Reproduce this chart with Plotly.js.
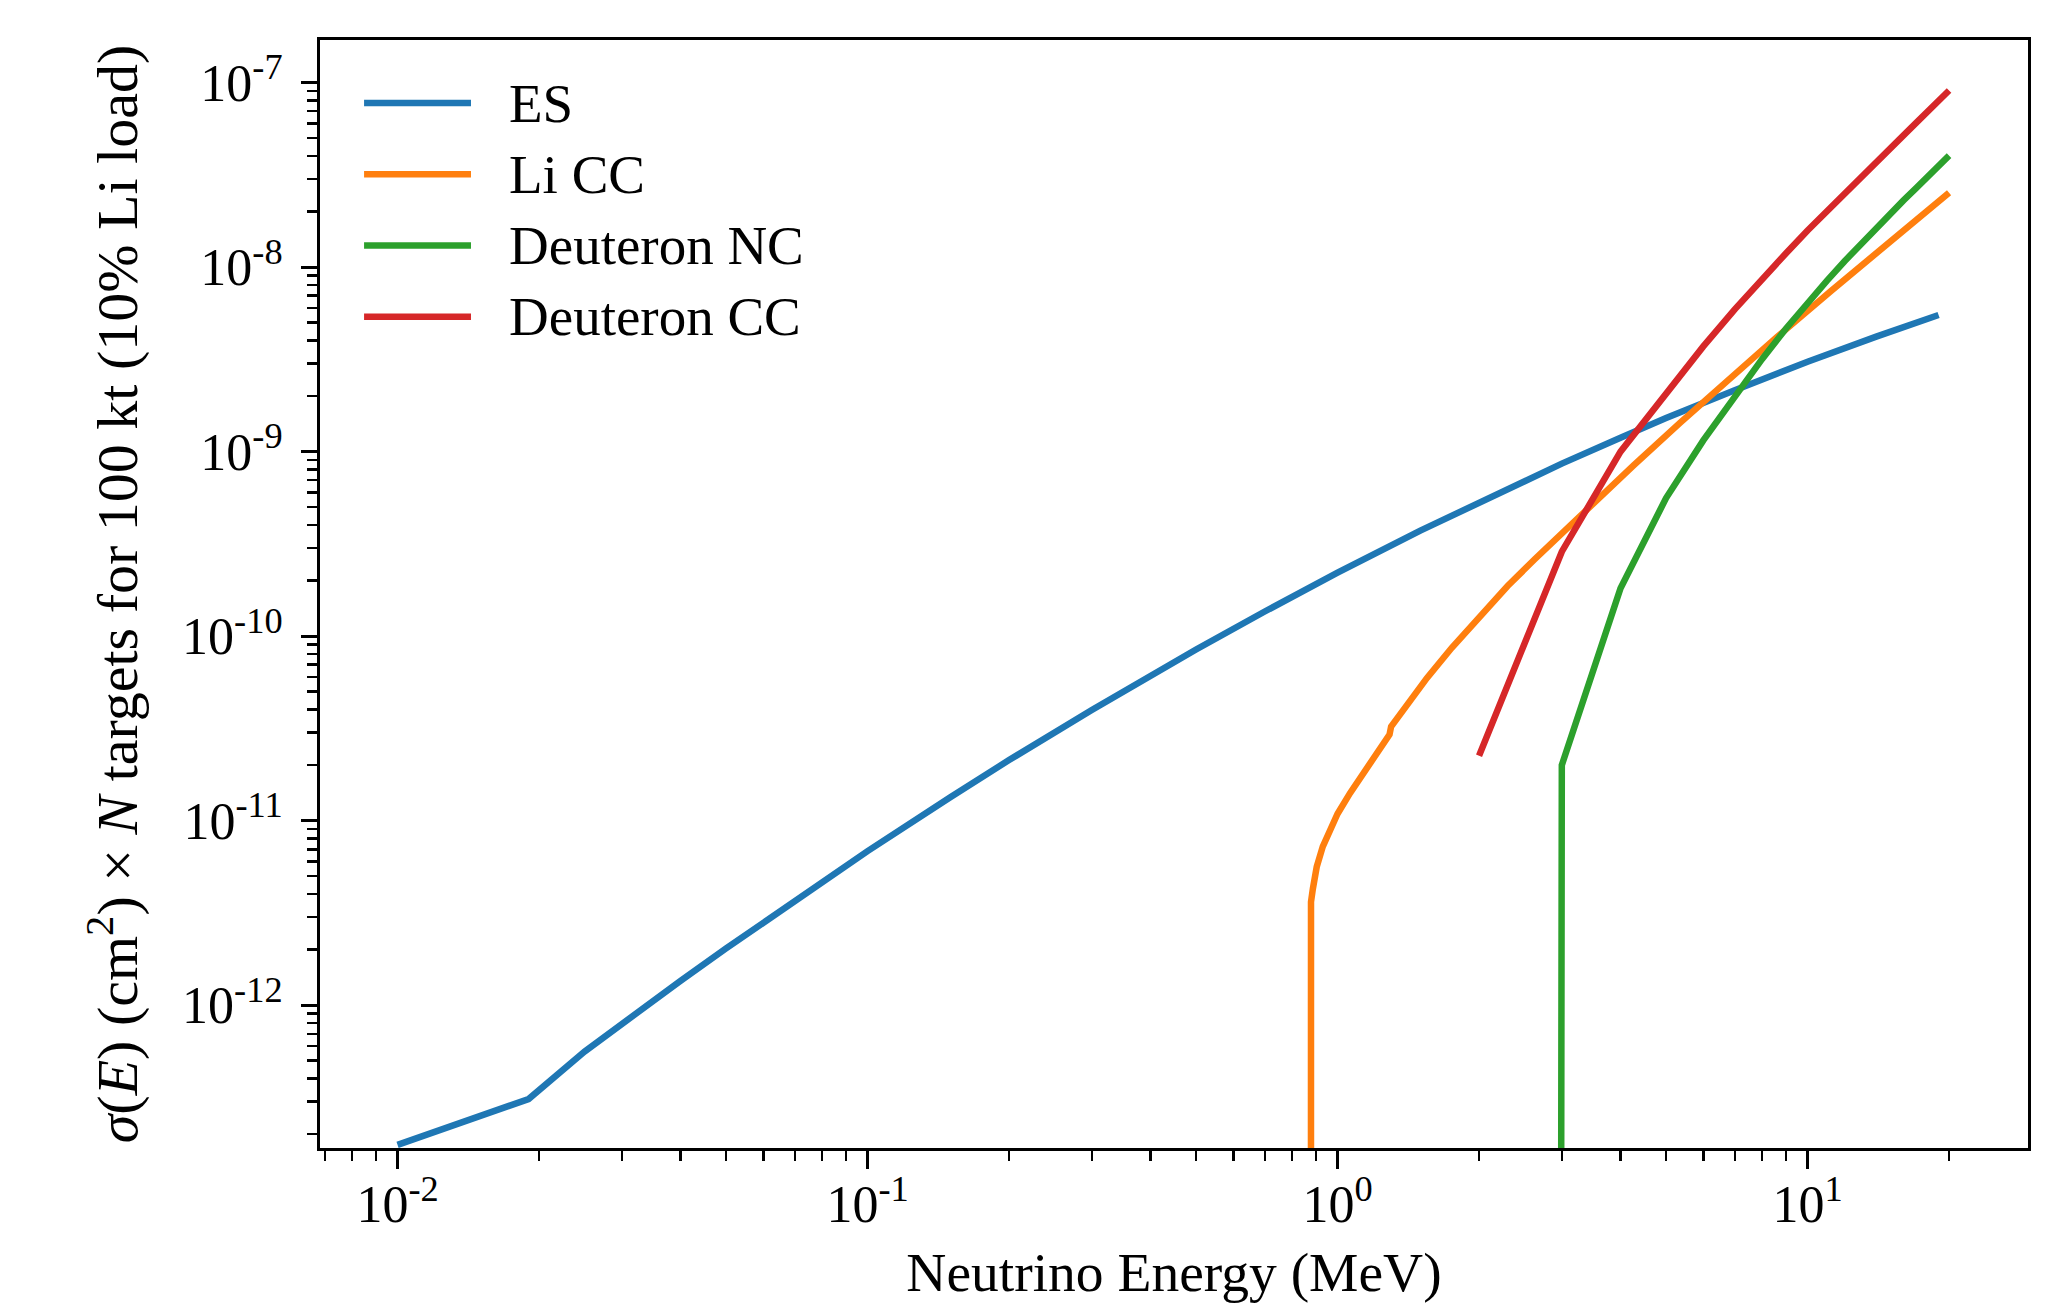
<!DOCTYPE html>
<html><head><meta charset="utf-8">
<script src="https://cdn.plot.ly/plotly-3.0.1.min.js"></script>
<style>html,body{margin:0;padding:0;background:#fff;}</style>
</head><body><div id="chart" style="width:2052px;height:1303px;"></div>
<script>
// ---------------- data ----------------
const seriesNames  = ['ES', 'Li CC', 'Deuteron NC', 'Deuteron CC'];
const seriesColors = ['#1f77b4', '#ff7f0e', '#2ca02c', '#d62728'];

// Elastic scattering
const esEnergy = [0.01, 0.019, 0.025, 0.03, 0.04, 0.05, 0.07, 0.1, 0.15, 0.2, 0.3, 0.4, 0.5, 0.7, 1, 1.5, 2, 3, 4, 5, 7, 10, 14, 19];
const esSigma  = [1.75e-13, 3.1e-13, 5.61e-13, 7.93e-13, 1.355e-12, 2.03e-12, 3.70e-12, 6.84e-12, 1.34e-11, 2.13e-11, 3.98e-11, 6.12e-11, 8.47e-11, 1.36e-10, 2.21e-10, 3.73e-10, 5.32e-10, 8.61e-10, 1.19e-9, 1.52e-9, 2.15e-9, 3.07e-9, 4.20e-9, 5.50e-9];

// Li charged current (0 below threshold)
const liEnergy = [0.86, 0.874, 0.878, 0.886, 0.903, 0.93, 0.964, 1.0, 1.063, 1.15, 1.29, 1.30, 1.4, 1.55, 1.75, 2.04, 2.3, 2.63, 3.39, 4.27, 5.36, 6.76, 8.59, 11.2, 14.74, 20];
const liSigma  = [0, 3.02e-12, 3.63e-12, 4.27e-12, 5.62e-12, 7.24e-12, 9.08e-12, 1.09e-11, 1.41e-11, 1.91e-11, 2.93e-11, 3.24e-11, 4.23e-11, 5.94e-11, 8.65e-11, 1.35e-10, 1.87e-10, 2.62e-10, 4.89e-10, 8.45e-10, 1.435e-9, 2.44e-9, 4.16e-9, 7.41e-9, 1.33e-8, 2.53e-8];

// Deuteron neutral current (0 below threshold)
const dncEnergy = [2, 3, 4, 5, 6, 7, 8, 9, 10, 11, 12, 13, 14, 15, 16, 17, 18, 19, 20];
const dncSigma  = [0, 2.0e-11, 1.82e-10, 5.6e-10, 1.15e-9, 2.0e-9, 3.17e-9, 4.65e-9, 6.41e-9, 8.45e-9, 1.08e-8, 1.34e-8, 1.63e-8, 1.95e-8, 2.30e-8, 2.67e-8, 3.08e-8, 3.53e-8, 4.02e-8];

// Deuteron charged current
const dccEnergy = [2, 3, 4, 5, 6, 7, 8, 9, 10, 11, 12, 13, 14, 15, 16, 17, 18, 19, 20];
const dccSigma  = [2.25e-11, 2.87e-10, 1.0e-9, 2.07e-9, 3.72e-9, 5.9e-9, 8.63e-9, 1.19e-8, 1.58e-8, 2.02e-8, 2.52e-8, 3.08e-8, 3.71e-8, 4.41e-8, 5.18e-8, 6.03e-8, 6.95e-8, 7.96e-8, 9.06e-8];

// tick labels
const xTickVals = [0.01, 0.1, 1, 10];
const xTickText = ['10<sup>-2</sup>', '10<sup>-1</sup>', '10<sup>0</sup>', '10<sup>1</sup>'];
const yTickVals = [1e-12, 1e-11, 1e-10, 1e-9, 1e-8, 1e-7];
const yTickText = ['10<sup>-12</sup>', '10<sup>-11</sup>', '10<sup>-10</sup>', '10<sup>-9</sup>', '10<sup>-8</sup>', '10<sup>-7</sup>'];

const xTitle = 'Neutrino Energy (MeV)';
const yTitle = '<i>σ</i>(<i>E</i>) (cm<sup>2</sup>) × <i>N</i> targets for 100 kt (10% Li load)';

// ---------------- helpers ----------------
// zero values cannot be shown on a log axis; a tiny floor makes the line drop straight off the axis as in the reference
const FLOOR = 1e-300;
const floorZero = arr => arr.map(v => (v > 0 ? v : FLOOR));
function minorTicks(kFrom, kTo) {
  const out = [];
  for (let k = kFrom; k <= kTo; k++) for (let m = 2; m <= 9; m++) out.push(m * Math.pow(10, k));
  return out;
}

const FONT = 'Liberation Serif, Times New Roman, serif';
const LW = 6.5;

const xs = [esEnergy, liEnergy, dncEnergy, dccEnergy];
const ys = [esSigma, liSigma, dncSigma, dccSigma].map(floorZero);

const traces = xs.map((x, i) => ({
  x: x, y: ys[i], name: seriesNames[i], type: 'scatter', mode: 'lines',
  line: {color: seriesColors[i], width: LW}, showlegend: false
}));

// custom legend (matplotlib style: long line samples, no frame)
const shapes = [], annotations = [];
const legTop = 0.9431, legStep = 0.0643;
seriesNames.forEach((n, i) => {
  const yy = legTop - i * legStep;
  shapes.push({type: 'line', xref: 'paper', yref: 'paper', x0: 0.0258, x1: 0.0884, y0: yy, y1: yy,
               line: {color: seriesColors[i], width: LW}});
  annotations.push({xref: 'paper', yref: 'paper', x: 0.1094, y: yy, xanchor: 'left', yanchor: 'middle',
                    text: n, showarrow: false, font: {family: FONT, size: 55, color: '#000'}});
});

const axisCommon = {
  type: 'log', showgrid: false, zeroline: false, showline: true, mirror: true,
  linecolor: '#000', linewidth: 3, ticks: 'outside', tickcolor: '#000', tickwidth: 3,
  tickmode: 'array', automargin: false,
  tickfont: {family: FONT, size: 52, color: '#000'}
};

const layout = {
  width: 2052, height: 1303,
  margin: {l: 320, r: 24, t: 40, b: 155},
  paper_bgcolor: '#fff', plot_bgcolor: '#fff',
  showlegend: false,
  xaxis: Object.assign({}, axisCommon, {
    range: [-2.165, 1.469], tickvals: xTickVals, ticktext: xTickText, ticklen: 18,
    ticklabelstandoff: -9,
    minor: {ticks: 'outside', ticklen: 10, tickwidth: 2.5, tickcolor: '#000', tickmode: 'array', tickvals: minorTicks(-3, 1), showgrid: false},
    title: {text: xTitle, font: {family: FONT, size: 55.5, color: '#000'}, standoff: 30}
  }),
  yaxis: Object.assign({}, axisCommon, {
    range: [-12.774, -6.769], tickvals: yTickVals, ticktext: yTickText, ticklen: 16,
    ticklabelstandoff: 8,
    minor: {ticks: 'outside', ticklen: 10, tickwidth: 2.5, tickcolor: '#000', tickmode: 'array', tickvals: minorTicks(-13, -8), showgrid: false},
    title: {text: yTitle, font: {family: FONT, size: 58, color: '#000'}, standoff: 26}
  }),
  shapes: shapes, annotations: annotations
};

Plotly.newPlot('chart', traces, layout, {staticPlot: true, displayModeBar: false});
</script></body></html>
